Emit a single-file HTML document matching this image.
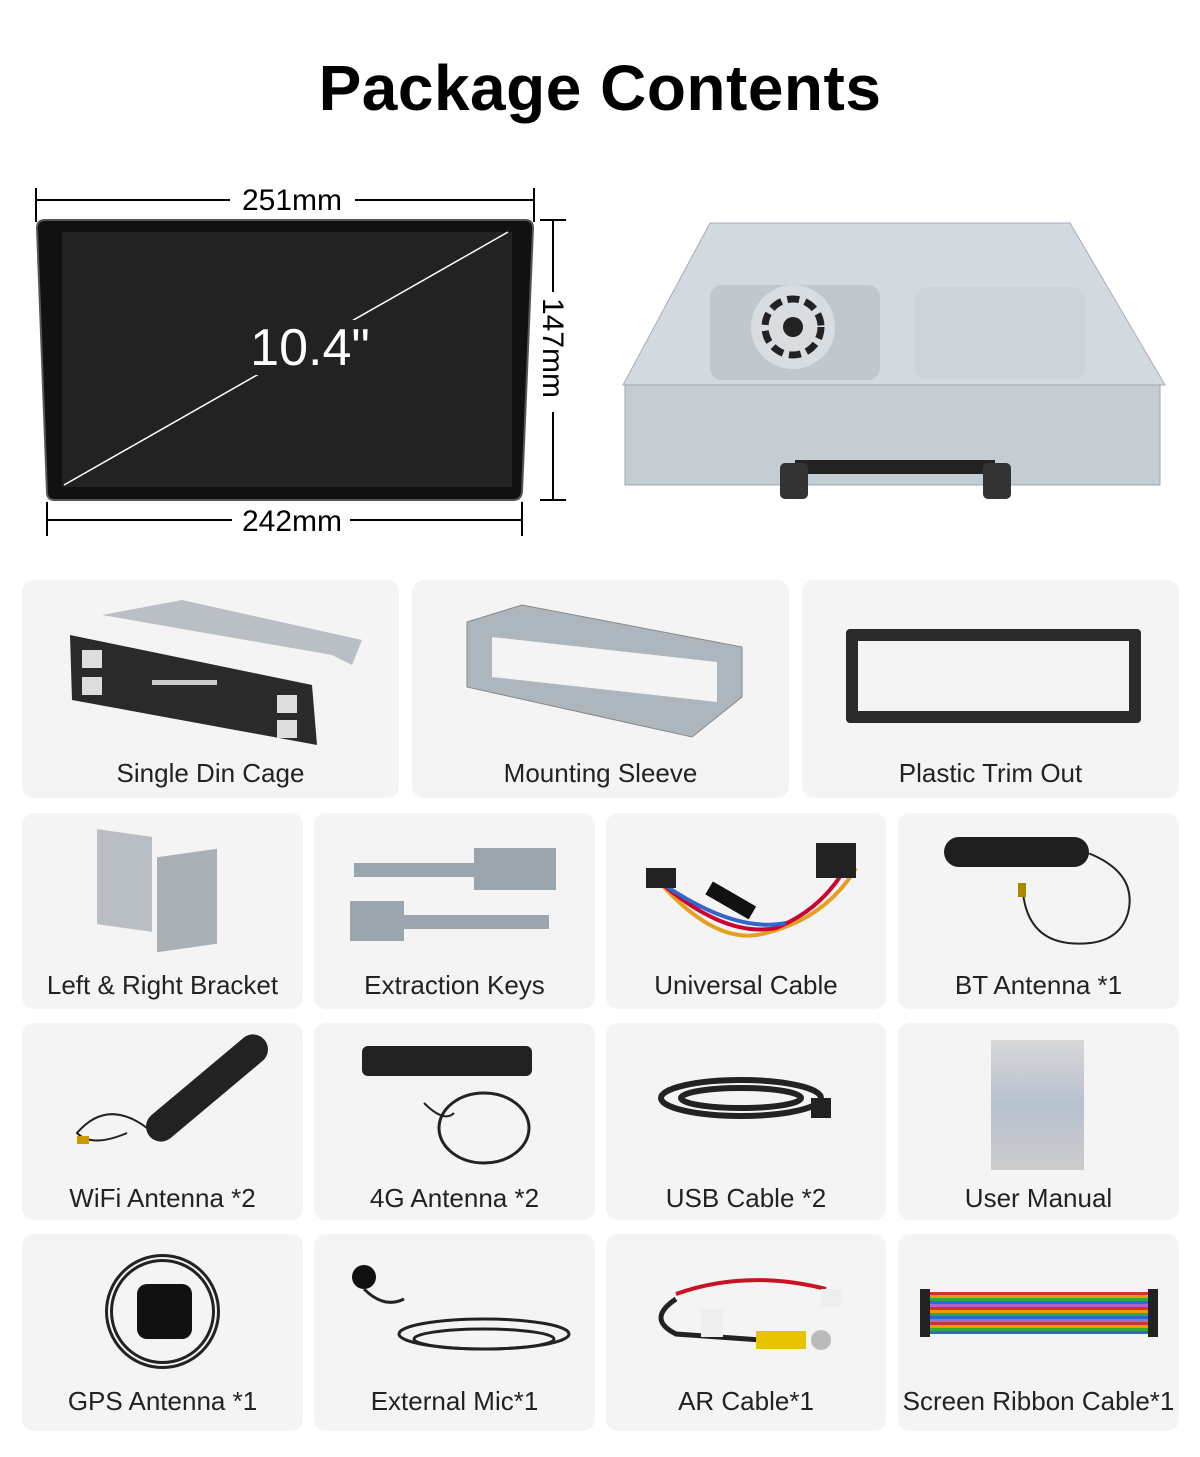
<!DOCTYPE html>
<html><head><meta charset="utf-8"><style>
*{margin:0;padding:0;box-sizing:border-box}
body{width:1200px;height:1457px;background:#fff;position:relative;font-family:"Liberation Sans",sans-serif;overflow:hidden}
.a{position:absolute}
.card{position:absolute;background:#f4f4f4;border-radius:12px}
.lbl{position:absolute;left:0;right:0;text-align:center;font-size:26px;color:#222}
h1{position:absolute;top:51px;left:0;right:0;text-align:center;font-size:64px;font-weight:bold;color:#000;letter-spacing:0.5px}
</style></head><body>
<h1>Package Contents</h1>

<svg class="a" style="left:0;top:180px" width="600" height="370">
 <g stroke="#000" stroke-width="2" fill="none">
  <line x1="36" y1="8" x2="36" y2="42"/><line x1="534" y1="8" x2="534" y2="42"/>
  <line x1="36" y1="20" x2="230" y2="20"/><line x1="355" y1="20" x2="534" y2="20"/>
  <line x1="540" y1="40" x2="566" y2="40"/><line x1="540" y1="320" x2="566" y2="320"/>
  <line x1="553" y1="40" x2="553" y2="112"/><line x1="553" y1="232" x2="553" y2="320"/>
  <line x1="47" y1="322" x2="47" y2="356"/><line x1="522" y1="322" x2="522" y2="356"/>
  <line x1="47" y1="340" x2="232" y2="340"/><line x1="350" y1="340" x2="522" y2="340"/>
 </g>
 <text x="292" y="30" font-size="30" text-anchor="middle" font-family="Liberation Sans">251mm</text>
 <text x="292" y="351" font-size="30" text-anchor="middle" font-family="Liberation Sans">242mm</text>
 <text x="0" y="0" font-size="30" font-family="Liberation Sans" transform="translate(543,118) rotate(90)">147mm</text>
 <path d="M37 48 Q37 40 45 40 L525 40 Q533 40 533 48 L522 312 Q521 320 513 320 L55 320 Q47 320 47 312 Z" fill="#111" stroke="#555" stroke-width="2"/>
 <rect x="62" y="52" width="450" height="255" fill="#222"/>
 <line x1="64" y1="305" x2="508" y2="52" stroke="#fff" stroke-width="1.5"/>
 <rect x="245" y="140" width="130" height="55" fill="#222"/>
 <text x="310" y="185" font-size="52" fill="#fff" text-anchor="middle" font-family="Liberation Sans">10.4"</text>
</svg>

<svg class="a" style="left:615px;top:215px" width="560" height="290">
 <path d="M95 8 L455 8 L550 170 L8 170 Z" fill="#d3dadf" stroke="#aab"/>
 <rect x="10" y="170" width="535" height="100" fill="#c5ccd2" stroke="#9aa"/>
 <rect x="95" y="70" width="170" height="95" rx="12" fill="#c0c8ce"/>
 <rect x="300" y="72" width="170" height="92" rx="12" fill="#cdd4d9"/>
 <circle cx="178" cy="112" r="42" fill="#d8dde1"/>
 <g stroke="#222" stroke-width="7" fill="none"><circle cx="178" cy="112" r="28" stroke-dasharray="12 6"/></g>
 <circle cx="178" cy="112" r="10" fill="#222"/>
 <rect x="180" y="245" width="200" height="14" fill="#222"/>
 <rect x="165" y="248" width="28" height="36" rx="5" fill="#333"/>
 <rect x="368" y="248" width="28" height="36" rx="5" fill="#333"/>
</svg>

<div class="card" style="left:22px;top:580px;width:377px;height:218px">
 <svg class="a" style="left:40px;top:15px" width="300" height="160">
  <polygon points="40,20 120,5 300,45 290,70 270,60" fill="#b9bfc4"/>
  <polygon points="8,40 250,90 255,150 10,105" fill="#2a2a2a"/>
  <rect x="20" y="55" width="20" height="18" fill="#ddd"/><rect x="20" y="82" width="20" height="18" fill="#ddd"/>
  <rect x="215" y="100" width="20" height="18" fill="#ddd"/><rect x="215" y="125" width="20" height="18" fill="#ddd"/>
  <rect x="90" y="85" width="65" height="5" fill="#ccc"/>
 </svg>
 <div class="lbl" style="top:178px">Single Din Cage</div></div>
<div class="card" style="left:412px;top:580px;width:377px;height:218px">
 <svg class="a" style="left:50px;top:22px" width="290" height="140">
  <polygon points="5,20 60,3 280,45 280,95 230,135 5,85" fill="#aeb6bd" stroke="#888"/>
  <polygon points="30,35 255,60 255,100 30,75" fill="#f4f4f4"/>
 </svg>
 <div class="lbl" style="top:178px">Mounting Sleeve</div></div>
<div class="card" style="left:802px;top:580px;width:377px;height:218px">
 <div class="a" style="left:44px;top:49px;width:295px;height:94px;border:12px solid #2a2a2a;border-radius:4px"></div>
 <div class="lbl" style="top:178px">Plastic Trim Out</div></div>

<div class="card" style="left:22px;top:813px;width:281px;height:196px">
 <div class="a" style="left:75px;top:20px;width:55px;height:95px;background:#b8bec3;transform:skewY(8deg)"></div>
 <div class="a" style="left:135px;top:40px;width:60px;height:95px;background:#a9b0b6;transform:skewY(-8deg)"></div>
 <div class="lbl" style="top:157px">Left &amp; Right Bracket</div></div>
<div class="card" style="left:314px;top:813px;width:281px;height:196px">
 <div class="a" style="left:40px;top:50px;width:120px;height:14px;background:#9aa5ad"></div>
 <div class="a" style="left:160px;top:35px;width:82px;height:42px;background:#9aa5ad"></div>
 <div class="a" style="left:36px;top:88px;width:54px;height:40px;background:#9aa5ad"></div>
 <div class="a" style="left:90px;top:102px;width:145px;height:14px;background:#9aa5ad"></div>
 <div class="lbl" style="top:157px">Extraction Keys</div></div>
<div class="card" style="left:606px;top:813px;width:280px;height:196px">
 <svg class="a" style="left:30px;top:25px" width="230" height="110">
  <g fill="none" stroke-width="4"><path d="M20 40 Q80 110 130 95 Q190 80 220 30" stroke="#e5a020"/><path d="M25 45 Q90 100 140 90 Q190 70 215 20" stroke="#c03"/><path d="M30 48 Q100 95 150 85" stroke="#36c"/></g>
  <rect x="10" y="30" width="30" height="20" fill="#222"/><rect x="180" y="5" width="40" height="35" fill="#222"/>
  <rect x="70" y="55" width="50" height="15" fill="#111" transform="rotate(30 95 62)"/>
 </svg>
 <div class="lbl" style="top:157px">Universal Cable</div></div>
<div class="card" style="left:898px;top:813px;width:281px;height:196px">
 <div class="a" style="left:46px;top:24px;width:145px;height:30px;background:#1e1e1e;border-radius:15px"></div>
 <svg class="a" style="left:110px;top:40px" width="130" height="100"><path d="M80 0 Q130 20 120 60 Q110 95 60 90 Q20 85 15 40" fill="none" stroke="#222" stroke-width="2"/><rect x="10" y="30" width="8" height="14" fill="#a80"/></svg>
 <div class="lbl" style="top:157px">BT Antenna *1</div></div>

<div class="card" style="left:22px;top:1023px;width:281px;height:197px">
 <div class="a" style="left:110px;top:50px;width:150px;height:30px;background:#222;border-radius:15px;transform:rotate(-40deg)"></div>
 <svg class="a" style="left:45px;top:80px" width="110" height="50"><path d="M80 25 Q40 -5 10 30 Q25 45 60 30" fill="none" stroke="#222" stroke-width="2"/><rect x="10" y="33" width="12" height="8" fill="#c90"/></svg>
 <div class="lbl" style="top:160px">WiFi Antenna *2</div></div>
<div class="card" style="left:314px;top:1023px;width:281px;height:197px">
 <div class="a" style="left:48px;top:23px;width:170px;height:30px;background:#222;border-radius:6px"></div>
 <svg class="a" style="left:90px;top:50px" width="140" height="95"><ellipse cx="80" cy="55" rx="45" ry="35" fill="none" stroke="#222" stroke-width="3"/><path d="M20 30 Q40 50 50 40" stroke="#222" fill="none" stroke-width="2"/></svg>
 <div class="lbl" style="top:160px">4G Antenna *2</div></div>
<div class="card" style="left:606px;top:1023px;width:280px;height:197px">
 <svg class="a" style="left:50px;top:45px" width="180" height="70"><g fill="none" stroke="#222" stroke-width="6"><ellipse cx="85" cy="30" rx="80" ry="18"/><ellipse cx="85" cy="30" rx="60" ry="10"/></g><rect x="155" y="30" width="20" height="20" fill="#222"/></svg>
 <div class="lbl" style="top:160px">USB Cable *2</div></div>
<div class="card" style="left:898px;top:1023px;width:281px;height:197px">
 <div class="a" style="left:93px;top:17px;width:93px;height:130px;background:linear-gradient(#d8d8d8,#b7c0cf 50%,#ccc)"></div>
 <div class="lbl" style="top:160px">User Manual</div></div>

<div class="card" style="left:22px;top:1234px;width:281px;height:197px">
 <div class="a" style="left:83px;top:20px;width:115px;height:115px;border:8px double #222;border-radius:50%"></div>
 <div class="a" style="left:115px;top:50px;width:55px;height:55px;background:#111;border-radius:10px"></div>
 <div class="lbl" style="top:152px">GPS Antenna *1</div></div>
<div class="card" style="left:314px;top:1234px;width:281px;height:197px">
 <svg class="a" style="left:30px;top:25px" width="230" height="110"><circle cx="20" cy="18" r="12" fill="#111"/><g fill="none" stroke="#222" stroke-width="3"><ellipse cx="140" cy="75" rx="85" ry="15"/><ellipse cx="140" cy="80" rx="70" ry="10"/><path d="M20 30 Q40 50 60 40"/></g></svg>
 <div class="lbl" style="top:152px">External Mic*1</div></div>
<div class="card" style="left:606px;top:1234px;width:280px;height:197px">
 <svg class="a" style="left:40px;top:35px" width="210" height="90"><path d="M30 30 Q0 50 30 65 L130 72" fill="none" stroke="#222" stroke-width="5"/><path d="M30 25 Q100 0 180 20" fill="none" stroke="#c12" stroke-width="4"/><rect x="110" y="62" width="50" height="18" fill="#e8c400"/><circle cx="175" cy="71" r="10" fill="#bbb"/><rect x="55" y="40" width="22" height="28" fill="#eee"/><rect x="175" y="20" width="20" height="18" fill="#eee"/></svg>
 <div class="lbl" style="top:152px">AR Cable*1</div></div>
<div class="card" style="left:898px;top:1234px;width:281px;height:197px">
 <div class="a" style="left:22px;top:58px;width:238px;height:42px;background:repeating-linear-gradient(#c33 0 3px,#e90 3px 6px,#3a3 6px 9px,#36c 9px 12px,#a6c 12px 15px)"></div>
 <div class="a" style="left:22px;top:55px;width:10px;height:48px;background:#222"></div>
 <div class="a" style="left:250px;top:55px;width:10px;height:48px;background:#222"></div>
 <div class="lbl" style="top:152px">Screen Ribbon Cable*1</div></div>
</body></html>
